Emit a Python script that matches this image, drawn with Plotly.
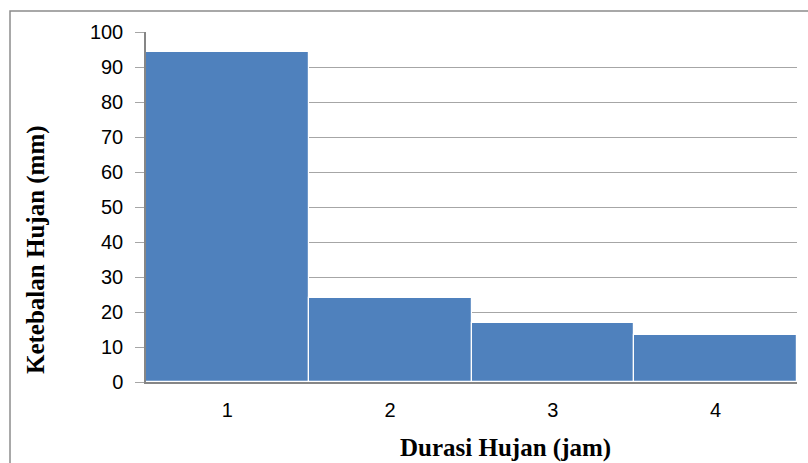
import plotly.graph_objects as go

categories = ["1", "2", "3", "4"]
values = [94.3, 24.1, 17.0, 13.5]
y_ticks = [0, 10, 20, 30, 40, 50, 60, 70, 80, 90, 100]
x_title = "Durasi Hujan (jam)"
y_title = "Ketebalan Hujan (mm)"

fig = go.Figure()
fig.add_trace(go.Bar(
    x=categories, y=values,
    marker=dict(color="#4F81BD", line=dict(color="#FFFFFF", width=1.2)),
    width=1.0,
))

tick_font = dict(family="Liberation Sans, Arial, sans-serif", size=20, color="#000000")
title_font = dict(family="Liberation Serif, Times New Roman, serif", size=25, color="#000000")

fig.update_layout(
    width=808, height=463,
    margin=dict(l=146, r=11, t=32, b=81),
    paper_bgcolor="#FFFFFF", plot_bgcolor="#FFFFFF",
    showlegend=False,
    bargap=0,
    xaxis=dict(
        type="category", showgrid=False, showline=True, linecolor="#868686", linewidth=2,
        ticks="", tickfont=tick_font, ticklabelstandoff=9, range=[-0.5, 3.5],
    ),
    yaxis=dict(
        range=[0, 100], tickvals=y_ticks, showgrid=True, gridcolor="#A6A6A6", gridwidth=1,
        showline=True, linecolor="#868686", linewidth=1.5, ticks="outside", ticklen=9,
        tickcolor="#A6A6A6", tickfont=tick_font, ticklabelstandoff=8, zeroline=False,
    ),
    shapes=[dict(type="rect", xref="paper", yref="paper",
                 x0=-0.2089, x1=1.03, y0=-0.3, y1=1.06,
                 line=dict(color="#8C8C8C", width=1.5), fillcolor="rgba(0,0,0,0)", layer="below")],
    annotations=[
        dict(text="<b>" + x_title + "</b>", xref="paper", yref="paper", x=(505 - 146) / 651, y=(382 - 448) / 350,
             xanchor="center", yanchor="middle", showarrow=False, font=title_font),
        dict(text="<b>" + y_title + "</b>", xref="paper", yref="paper", x=(36 - 146) / 651, y=(382 - 250) / 350,
             xanchor="center", yanchor="middle", showarrow=False, textangle=-90, font=title_font),
    ],
)

fig.write_html("out.html")
